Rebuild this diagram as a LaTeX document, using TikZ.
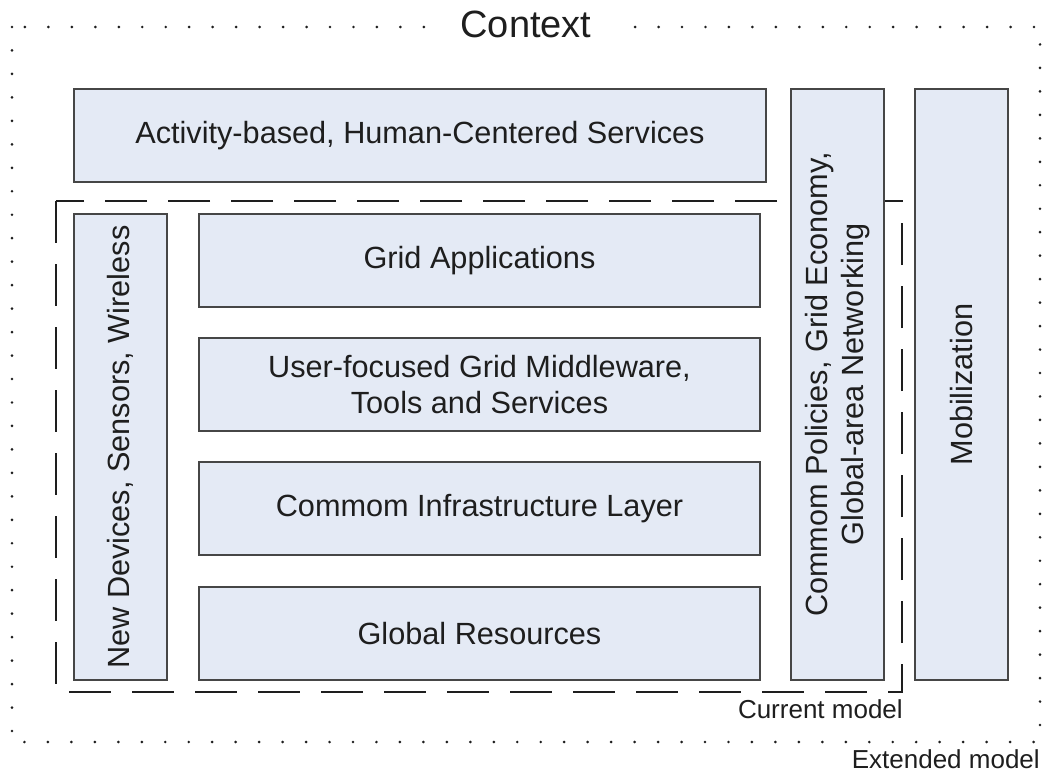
\documentclass[tikz,border=0pt]{standalone}
\usepackage{fontspec}
\setmainfont{Liberation Sans}
\usepackage{tikz}

\definecolor{boxfill}{RGB}{228,234,245}
\definecolor{boxline}{RGB}{70,70,70}
\definecolor{txt}{RGB}{30,30,30}

\tikzset{
  box/.style={draw=boxline,fill=boxfill,line width=1.3pt},
  label/.style={text=txt,font=\fontsize{23pt}{26.5pt}\selectfont,align=center,inner sep=0pt},
  small/.style={text=txt,font=\fontsize{19.5pt}{22pt}\selectfont,inner sep=0pt},
}

\begin{document}
\begin{tikzpicture}[x=0.75pt,y=-0.75pt]
\useasboundingbox (0,0) rectangle (1042,774);

% extended model
\draw[line width=2.2pt,line cap=round,dash pattern=on 0pt off 17.6pt,draw=txt] (12,27) rectangle (1040,742);
\node[text=txt,font=\fontsize{28.5pt}{32pt}\selectfont,fill=white,inner xsep=18pt,inner ysep=0pt] (context) at (526,24) {Context};
\node[small,anchor=base east] (extended) at (1040,768) {Extended model};

% current model
\draw[line width=1.7pt,draw=txt,dash pattern=on 31.5pt off 15.75pt] (56,201) rectangle (902,692);
\node[small,anchor=base east] (current) at (903,718) {Current model};

% boxes
\draw[box] (74,89) rectangle (766,182);
\draw[box] (791,89) rectangle (884,680);
\draw[box] (915,89) rectangle (1008,680);
\draw[box] (74,214) rectangle (167,680);
\draw[box] (199,214) rectangle (760,307);
\draw[box] (199,338) rectangle (760,431);
\draw[box] (199,462) rectangle (760,555);
\draw[box] (199,587) rectangle (760,680);

\node[label] (activity) at (420,135.5) {Activity-based, Human-Centered Services};
\node[label,rotate=90] (policies) at (837.5,384.5) {Commom Policies, Grid Economy,\\Global-area Networking};
\node[label,rotate=90] (mobil) at (961.5,384.5) {Mobilization};
\node[label,rotate=90] (devices) at (120.5,447) {New Devices, Sensors, Wireless};
\node[label] (apps) at (479.5,260.5) {Grid Applications};
\node[label] (middleware) at (479.5,384.5) {User-focused Grid Middleware,\\Tools and Services};
\node[label] (infra) at (479.5,508.5) {Commom Infrastructure Layer};
\node[label] (resources) at (479.5,633.5) {Global Resources};
\end{tikzpicture}
\end{document}
